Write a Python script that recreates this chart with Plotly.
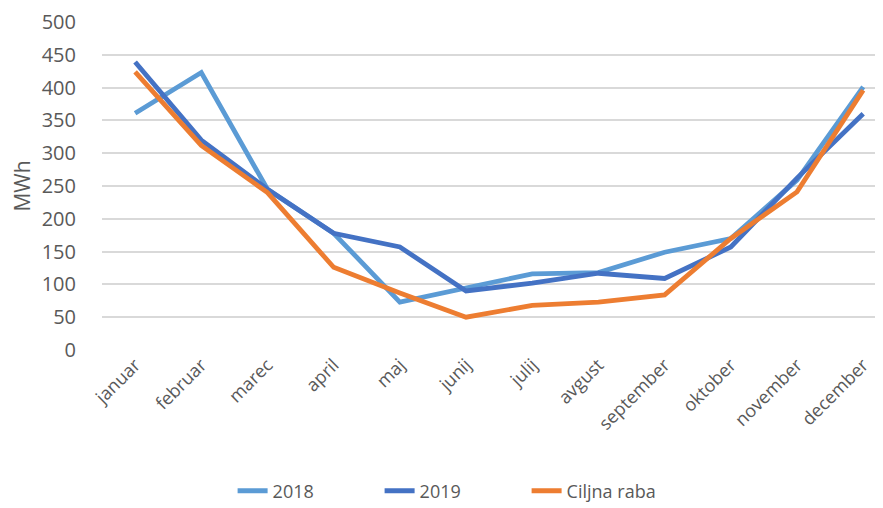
import plotly.graph_objects as go

months = ["januar", "februar", "marec", "april", "maj", "junij", "julij",
          "avgust", "september", "oktober", "november", "december"]
y2018 = [361, 423, 245, 178, 73, 95, 116, 118, 149, 170, 259, 401]
y2019 = [439, 320, 245, 178, 157, 90, 102, 117, 109, 157, 262, 360]
ciljna = [424, 312, 240, 126, 87, 50, 68, 73, 84, 170, 241, 396]

series = [("2018", y2018, "#5B9BD5"), ("2019", y2019, "#4472C4"),
          ("Ciljna raba", ciljna, "#ED7D31")]

fig = go.Figure()
for name, vals, col in series:
    fig.add_trace(go.Scatter(x=list(range(len(months))), y=vals, name=name,
                             mode="lines", line=dict(color=col, width=4.8)))

font = "Open Sans, Liberation Sans, sans-serif"
fig.update_layout(
    width=883, height=508,
    margin=dict(l=94, r=0, t=14, b=166),
    paper_bgcolor="white", plot_bgcolor="white",
    font=dict(family=font, color="#595959"),
    showlegend=True,
    legend=dict(orientation="h", x=0.445, xanchor="center", y=-0.43, yanchor="middle",
                font=dict(size=18, color="#595959"), tracegroupgap=0,
                entrywidth=102),
    xaxis=dict(range=[-0.5, 11.42], tickmode="array", tickvals=list(range(12)),
               ticktext=months, tickangle=-45, showgrid=False, zeroline=False,
               automargin=False,
               tickfont=dict(size=18, color="#595959"), showline=False, ticks=""),
    yaxis=dict(range=[0, 500], dtick=50, showgrid=True, gridcolor="#D9D9D9", gridwidth=2,
               zeroline=False, tickfont=dict(size=20, color="#595959"),
               ticklabelstandoff=25, automargin=False,
               title=dict(text="MWh", font=dict(size=21, color="#595959"), standoff=8)),
)
fig.write_html("out.html")
